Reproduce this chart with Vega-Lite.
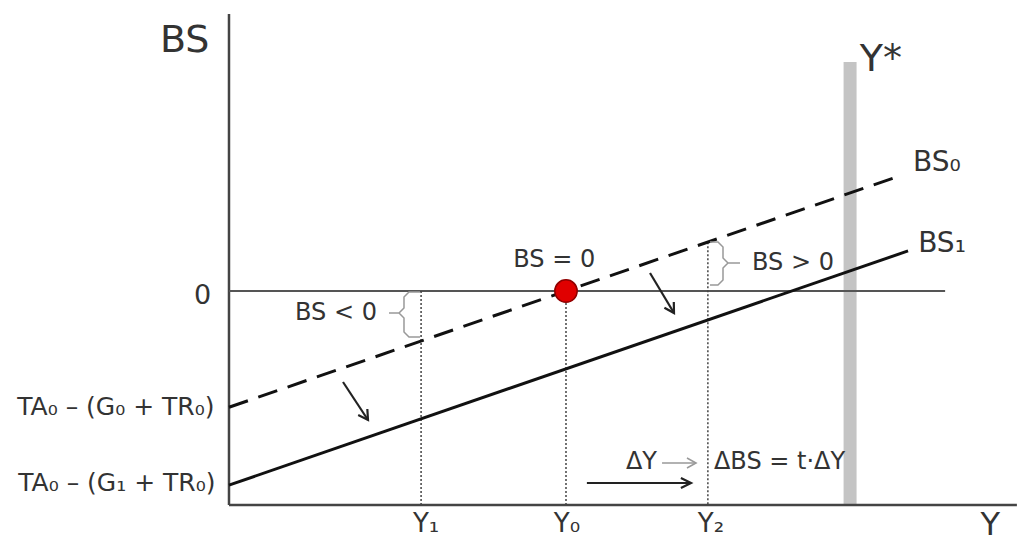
{
  "$schema": "https://vega.github.io/schema/vega-lite/v6.json",
  "width": 1017,
  "height": 544,
  "autosize": {"type": "none"},
  "padding": 0,
  "background": "white",
  "config": {"view": {"stroke": null}, "font": "DejaVu Sans", "text": {"font": "DejaVu Sans"}},
  "datasets": {
    "axes": [
      {"Y": 0, "BS": -63.5, "Y2": 0, "BS2": 82.2},
      {"Y": 0, "BS": -63.5, "Y2": 233.8, "BS2": -63.5}
    ],
    "zero": [{"Y": 0, "BS": 0, "Y2": 212.5, "BS2": 0}],
    "dotted": [
      {"Y": 57, "BS": 0, "Y2": 57, "BS2": -63.5},
      {"Y": 100, "BS": 0, "Y2": 100, "BS2": -63.5},
      {"Y": 142.1, "BS": 14.5, "Y2": 142.1, "BS2": -63.5}
    ],
    "ystar": [{"Y": 184.3, "BS": 67.95, "Y2": 184.3, "BS2": -63.5}],
    "bs0": [{"Y": 0, "BS": -34.5}, {"Y": 200, "BS": 34.5}],
    "bs1": [{"Y": 0, "BS": -57.6}, {"Y": 201.5, "BS": 11.9}],
    "point": [{"Y": 100, "BS": 0}],
    "shafts": [
      {"Y": 33.83, "BS": -27.0, "Y2": 41.25, "BS2": -38.28},
      {"Y": 124.93, "BS": 5.34, "Y2": 132.05, "BS2": -6.53},
      {"Y": 106.2, "BS": -56.97, "Y2": 137.1, "BS2": -56.97}
    ],
    "heads": [
      {"id": "a1", "i": 1, "Y": 41.05, "BS": -35.01},
      {"id": "a1", "i": 2, "Y": 41.25, "BS": -38.28},
      {"id": "a1", "i": 3, "Y": 38.34, "BS": -36.82},
      {"id": "a2", "i": 1, "Y": 131.99, "BS": -3.26},
      {"id": "a2", "i": 2, "Y": 132.05, "BS": -6.53},
      {"id": "a2", "i": 3, "Y": 129.2, "BS": -4.96},
      {"id": "a3", "i": 1, "Y": 134.1, "BS": -55.49},
      {"id": "a3", "i": 2, "Y": 137.1, "BS": -56.97},
      {"id": "a3", "i": 3, "Y": 134.1, "BS": -58.46}
    ],
    "grayShaft": [{"Y": 128.5, "BS": -51.04, "Y2": 138.6, "BS2": -51.04}],
    "grayHead": [
      {"i": 1, "Y": 135.9, "BS": -49.55},
      {"i": 2, "Y": 138.6, "BS": -51.04},
      {"i": 3, "Y": 135.9, "BS": -52.52}
    ],
    "braces": [
      {"id": "b1", "i": 1, "Y": 56.68, "BS": -0.3},
      {"id": "b1", "i": 2, "Y": 53.41, "BS": -0.3},
      {"id": "b1", "i": 3, "Y": 51.93, "BS": -1.78},
      {"id": "b1", "i": 4, "Y": 51.93, "BS": -5.04},
      {"id": "b1", "i": 5, "Y": 50.45, "BS": -6.53},
      {"id": "b1", "i": 6, "Y": 47.48, "BS": -6.53},
      {"id": "b1", "i": 7, "Y": 50.45, "BS": -6.53},
      {"id": "b1", "i": 8, "Y": 51.93, "BS": -8.01},
      {"id": "b1", "i": 9, "Y": 51.93, "BS": -12.17},
      {"id": "b1", "i": 10, "Y": 53.41, "BS": -13.65},
      {"id": "b1", "i": 11, "Y": 56.68, "BS": -13.65},
      {"id": "b2", "i": 1, "Y": 142.73, "BS": 14.54},
      {"id": "b2", "i": 2, "Y": 145.1, "BS": 14.54},
      {"id": "b2", "i": 3, "Y": 146.59, "BS": 13.06},
      {"id": "b2", "i": 4, "Y": 146.59, "BS": 9.79},
      {"id": "b2", "i": 5, "Y": 148.07, "BS": 8.31},
      {"id": "b2", "i": 6, "Y": 151.63, "BS": 8.31},
      {"id": "b2", "i": 7, "Y": 148.07, "BS": 8.31},
      {"id": "b2", "i": 8, "Y": 146.59, "BS": 6.82},
      {"id": "b2", "i": 9, "Y": 146.59, "BS": 3.26},
      {"id": "b2", "i": 10, "Y": 145.1, "BS": 1.78},
      {"id": "b2", "i": 11, "Y": 142.73, "BS": 1.78}
    ],
    "labels": [
      {"role": "title", "label": "BS", "Y": -20.5, "BS": 74.2},
      {"role": "title", "label": "Y*", "Y": 187.2, "BS": 68.5},
      {"role": "titleY", "label": "Y", "Y": 223.0, "BS": -69.4},
      {"role": "zero", "label": "0", "Y": -5.3, "BS": -1.6},
      {"role": "intercept", "label": "TA₀ – (G₀ + TR₀)", "Y": -4.3, "BS": -34.4},
      {"role": "intercept", "label": "TA₀ – (G₁ + TR₀)", "Y": -4.0, "BS": -56.9},
      {"role": "tick", "label": "Y₁", "Y": 58.5, "BS": -69.1},
      {"role": "tick", "label": "Y₀", "Y": 100.3, "BS": -69.1},
      {"role": "tick", "label": "Y₂", "Y": 143.0, "BS": -69.1},
      {"role": "curve", "label": "BS₀", "Y": 203.0, "BS": 38.0},
      {"role": "curve", "label": "BS₁", "Y": 204.5, "BS": 14.0},
      {"role": "noteC", "label": "BS = 0", "Y": 96.5, "BS": 9.2},
      {"role": "noteR", "label": "BS < 0", "Y": 43.9, "BS": -6.5},
      {"role": "noteL", "label": "BS > 0", "Y": 155.2, "BS": 8.3},
      {"role": "noteR", "label": "ΔY", "Y": 127.0, "BS": -50.7},
      {"role": "noteL", "label": "ΔBS = t·ΔY", "Y": 143.9, "BS": -50.7}
    ]
  },
  "encoding": {
    "x": {"field": "Y", "type": "quantitative", "scale": {"domain": [-67.95, 233.83], "nice": false, "zero": false}, "axis": null},
    "y": {"field": "BS", "type": "quantitative", "scale": {"domain": [-75.07, 86.35], "nice": false, "zero": false}, "axis": null}
  },
  "layer": [
    {"data": {"name": "ystar"}, "mark": {"type": "rule", "stroke": "#c4c4c4", "strokeWidth": 13},
     "encoding": {"x2": {"field": "Y2"}, "y2": {"field": "BS2"}}},
    {"data": {"name": "axes"}, "mark": {"type": "rule", "stroke": "#444444", "strokeWidth": 2.5},
     "encoding": {"x2": {"field": "Y2"}, "y2": {"field": "BS2"}}},
    {"data": {"name": "zero"}, "mark": {"type": "rule", "stroke": "#555555", "strokeWidth": 2},
     "encoding": {"x2": {"field": "Y2"}, "y2": {"field": "BS2"}}},
    {"data": {"name": "dotted"}, "mark": {"type": "rule", "stroke": "#444444", "strokeWidth": 1.5, "strokeDash": [2, 2]},
     "encoding": {"x2": {"field": "Y2"}, "y2": {"field": "BS2"}}},
    {"data": {"name": "bs0"}, "mark": {"type": "line", "stroke": "#111111", "strokeWidth": 3, "strokeDash": [20, 11]}, "encoding": {}},
    {"data": {"name": "bs1"}, "mark": {"type": "line", "stroke": "#111111", "strokeWidth": 3}, "encoding": {}},
    {"data": {"name": "braces"}, "mark": {"type": "line", "stroke": "#999999", "strokeWidth": 1.5},
     "encoding": {"detail": {"field": "id"}, "order": {"field": "i", "type": "quantitative"}}},
    {"data": {"name": "shafts"}, "mark": {"type": "rule", "stroke": "#222222", "strokeWidth": 2.2},
     "encoding": {"x2": {"field": "Y2"}, "y2": {"field": "BS2"}}},
    {"data": {"name": "heads"}, "mark": {"type": "line", "stroke": "#222222", "strokeWidth": 2.2},
     "encoding": {"detail": {"field": "id"}, "order": {"field": "i", "type": "quantitative"}}},
    {"data": {"name": "grayShaft"}, "mark": {"type": "rule", "stroke": "#999999", "strokeWidth": 1.5},
     "encoding": {"x2": {"field": "Y2"}, "y2": {"field": "BS2"}}},
    {"data": {"name": "grayHead"}, "mark": {"type": "line", "stroke": "#999999", "strokeWidth": 1.5},
     "encoding": {"order": {"field": "i", "type": "quantitative"}}},
    {"data": {"name": "point"}, "mark": {"type": "point", "filled": true, "fill": "#e00000", "stroke": "#900000", "strokeWidth": 1.5, "size": 500, "opacity": 1}, "encoding": {}},
    {"data": {"name": "labels"}, "transform": [{"filter": "datum.role == 'title'"}],
     "mark": {"type": "text", "align": "left", "baseline": "middle", "fontSize": 38, "fill": "#333333"},
     "encoding": {"text": {"field": "label"}}},
    {"data": {"name": "labels"}, "transform": [{"filter": "datum.role == 'titleY'"}],
     "mark": {"type": "text", "align": "left", "baseline": "middle", "fontSize": 32, "fill": "#333333"},
     "encoding": {"text": {"field": "label"}}},
    {"data": {"name": "labels"}, "transform": [{"filter": "datum.role == 'zero'"}],
     "mark": {"type": "text", "align": "right", "baseline": "middle", "fontSize": 27, "fill": "#333333"},
     "encoding": {"text": {"field": "label"}}},
    {"data": {"name": "labels"}, "transform": [{"filter": "datum.role == 'intercept'"}],
     "mark": {"type": "text", "align": "right", "baseline": "middle", "fontSize": 25, "fill": "#333333"},
     "encoding": {"text": {"field": "label"}}},
    {"data": {"name": "labels"}, "transform": [{"filter": "datum.role == 'tick'"}],
     "mark": {"type": "text", "align": "center", "baseline": "middle", "fontSize": 26, "fill": "#333333"},
     "encoding": {"text": {"field": "label"}}},
    {"data": {"name": "labels"}, "transform": [{"filter": "datum.role == 'curve'"}],
     "mark": {"type": "text", "align": "left", "baseline": "middle", "fontSize": 28, "fill": "#333333"},
     "encoding": {"text": {"field": "label"}}},
    {"data": {"name": "labels"}, "transform": [{"filter": "datum.role == 'noteC'"}],
     "mark": {"type": "text", "align": "center", "baseline": "middle", "fontSize": 24, "fill": "#333333"},
     "encoding": {"text": {"field": "label"}}},
    {"data": {"name": "labels"}, "transform": [{"filter": "datum.role == 'noteR'"}],
     "mark": {"type": "text", "align": "right", "baseline": "middle", "fontSize": 24, "fill": "#333333"},
     "encoding": {"text": {"field": "label"}}},
    {"data": {"name": "labels"}, "transform": [{"filter": "datum.role == 'noteL'"}],
     "mark": {"type": "text", "align": "left", "baseline": "middle", "fontSize": 24, "fill": "#333333"},
     "encoding": {"text": {"field": "label"}}}
  ]
}
